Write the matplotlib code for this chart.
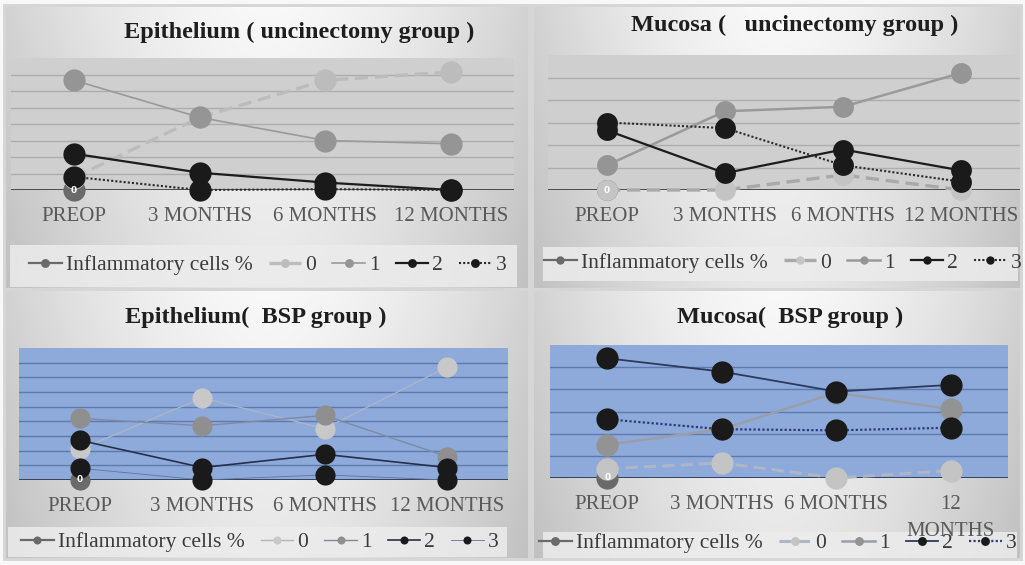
import numpy as np
import matplotlib
matplotlib.use('Agg')
import matplotlib.pyplot as plt
from matplotlib.patches import Rectangle

W, H = 1025, 565

categories = ['PREOP', '3 MONTHS', '6 MONTHS', '12 MONTHS']
categories_p4 = ['PREOP', '3 MONTHS', '6 MONTHS', '12\nMONTHS']
series_names = ['Inflammatory cells %', '0', '1', '2', '3']
titles = ['Epithelium ( uncinectomy group )', 'Mucosa (   uncinectomy group )',
          'Epithelium(  BSP group )', 'Mucosa(  BSP group )']

# Inflammatory cells % : only the PREOP point (value 0, labelled)
inflam_preop = [0]

# Epithelium (uncinectomy group)
epi_unc_0 = [0.75, 4.4, 6.65, 7.15]
epi_unc_1 = [6.65, 4.4, 3.0, 2.8]
epi_unc_2 = [2.2, 1.05, 0.45, 0.0]
epi_unc_3 = [0.8, 0.0, 0.05, 0.0]

# Mucosa (uncinectomy group)
muc_unc_0 = [0.0, 0.0, 0.67, 0.0]
muc_unc_1 = [1.1, 3.5, 3.7, 5.2]
muc_unc_2 = [2.65, 0.75, 1.8, 0.87]
muc_unc_3 = [3.0, 2.75, 1.1, 0.37]

# Epithelium (BSP group)
epi_bsp_0 = [2.1, 5.6, 3.5, 7.7]
epi_bsp_1 = [4.2, 3.7, 4.4, 1.6]
epi_bsp_2 = [2.7, 0.85, 1.75, 0.85]
epi_bsp_3 = [0.8, 0.0, 0.35, 0.0]

# Mucosa (BSP group)
muc_bsp_0 = [0.42, 0.68, 0.0, 0.33]
muc_bsp_1 = [1.5, 2.2, 3.85, 3.1]
muc_bsp_2 = [5.4, 4.8, 3.9, 4.2]
muc_bsp_3 = [2.65, 2.2, 2.15, 2.27]

SERIF = ['Liberation Serif', 'DejaVu Serif']

fig = plt.figure(figsize=(W / 100, H / 100), dpi=100)

# ---------- background ----------
panels = [(6, 7, 528, 288), (534, 7, 1020, 288), (6, 291, 528, 558), (534, 291, 1020, 558)]
img = np.ones((H, W)) * 0.975
yy, xx = np.mgrid[0:H, 0:W]
for (x0, y0, x1, y1) in panels:
    img[y0 - 3:y1 + 3, x0 - 3:x1 + 3] = np.minimum(img[y0 - 3:y1 + 3, x0 - 3:x1 + 3], 0.84)
for (x0, y0, x1, y1) in panels:
    xc = (x0 + x1) / 2
    u = (xx[y0:y1, x0:x1] - xc) / ((x1 - x0) / 2)
    v = (yy[y0:y1, x0:x1] - y0) / (y1 - y0)
    img[y0:y1, x0:x1] = 0.975 - 0.15 * np.abs(u) ** 1.6 - 0.07 * v
bg = fig.add_axes([0, 0, 1, 1])
bg.imshow(np.dstack([img] * 3), aspect='auto', extent=(0, W, H, 0))
bg.set_xlim(0, W)
bg.set_ylim(H, 0)
bg.axis('off')


def rect(x0, y0, x1, y1):
    return [x0 / W, 1 - y1 / H, (x1 - x0) / W, (y1 - y0) / H]


configs = [
    dict(ax=(11, 58, 514, 190), ymax=8, face='#cfcfcf', grid='#adadad', base='#3f3f3f',
         data=[epi_unc_0, epi_unc_1, epi_unc_2, epi_unc_3], cats=categories,
         title_xy=(299, 32), leg_box=(10, 245, 517, 287), leg_c=(268, 265), ms=16,
         styles=[dict(color='#bcbcbc', ls=(0, (4, 2)), lw=2.4, mfc='#bcbcbc'),
                 dict(color='#9a9a9a', ls='-', lw=1.2, mfc='#959595'),
                 dict(color='#1c1c1c', ls='-', lw=1.6, mfc='#1a1a1a'),
                 dict(color='#2a2a2a', ls=(0, (1, 1)), lw=1.5, mfc='#1a1a1a')]),
    dict(ax=(548, 55, 1020, 190), ymax=6, face='#cfcfcf', grid='#adadad', base='#3f3f3f',
         data=[muc_unc_0, muc_unc_1, muc_unc_2, muc_unc_3], cats=categories,
         title_xy=(795, 25), leg_box=(543, 247, 1018, 281), leg_c=(783, 263), ms=15,
         styles=[dict(color='#a9a9a9', ls=(0, (4, 2)), lw=2.4, mfc='#c4c4c4'),
                 dict(color='#9a9a9a', ls='-', lw=1.8, mfc='#959595'),
                 dict(color='#1c1c1c', ls='-', lw=1.6, mfc='#1a1a1a'),
                 dict(color='#2a2a2a', ls=(0, (1, 1)), lw=1.5, mfc='#1a1a1a')]),
    dict(ax=(19, 348, 508, 480), ymax=9, face='#8eaadb', grid='#5d79ad', base='#2c3852',
         data=[epi_bsp_0, epi_bsp_1, epi_bsp_2, epi_bsp_3], cats=categories,
         title_xy=(256, 317), leg_box=(8, 527, 507, 557), leg_c=(260, 542), ms=14.5,
         styles=[dict(color='#aab5c9', ls='-', lw=1.0, mfc='#c8c8c8'),
                 dict(color='#7f8aa0', ls='-', lw=1.0, mfc='#8f8f8f'),
                 dict(color='#26304a', ls='-', lw=1.2, mfc='#1a1a1a'),
                 dict(color='#5e72a0', ls='-', lw=0.6, mfc='#1a1a1a')]),
    dict(ax=(550, 345, 1008, 478), ymax=6, face='#8eaadb', grid='#5d79ad', base='#2c3852',
         data=[muc_bsp_0, muc_bsp_1, muc_bsp_2, muc_bsp_3], cats=categories_p4,
         title_xy=(790, 317), leg_box=(543, 532, 1017, 558), leg_c=(778, 543), ms=16,
         styles=[dict(color='#aeb6c6', ls=(0, (4, 2)), lw=2.2, mfc='#c4c4c4'),
                 dict(color='#9a9ea8', ls='-', lw=1.8, mfc='#939393'),
                 dict(color='#2c3a5c', ls='-', lw=1.3, mfc='#1a1a1a'),
                 dict(color='#2c3a7c', ls=(0, (1, 1)), lw=1.6, mfc='#1a1a1a')]),
]

for i, cfg in enumerate(configs):
    ax = fig.add_axes(rect(*cfg['ax']))
    ax.set_facecolor(cfg['face'])
    for s in ax.spines.values():
        s.set_visible(False)
    ax.set_xlim(-0.5, 3.5)
    ax.set_ylim(0, cfg['ymax'])
    for g in range(1, cfg['ymax']):
        ax.axhline(g, color=cfg['grid'], lw=1.0, zorder=1)
    ax.axhline(0, color=cfg['base'], lw=2.0, zorder=2)
    x = np.arange(len(categories))
    handles = []
    h, = ax.plot(x[:1], inflam_preop, color='#6a6a6a', marker='o', ms=cfg['ms'],
                 mfc='#6a6a6a', mec='none', lw=1.6, clip_on=False, zorder=3,
                 label=series_names[0])
    handles.append(h)
    for j, (vals, st) in enumerate(zip(cfg['data'], cfg['styles'])):
        h, = ax.plot(x, vals, color=st['color'], ls=st['ls'], lw=st['lw'], marker='o',
                     ms=cfg['ms'], mfc=st['mfc'], mec='none', clip_on=False,
                     zorder=4 + j, label=series_names[j + 1])
        handles.append(h)
    ax.text(0, inflam_preop[0], '0', color='white', fontsize=6.5, fontweight='bold',
            ha='center', va='center', zorder=20, clip_on=False)
    ax.set_yticks([])
    ax.set_xticks(x)
    ax.set_xticklabels(cfg['cats'], fontsize=15, color='#595959', family=SERIF,
                       linespacing=1.55)
    ax.tick_params(axis='x', length=0, pad=12.5)

    fig.text(cfg['title_xy'][0] / W, 1 - cfg['title_xy'][1] / H, titles[i],
             fontsize=17.5, fontweight='bold', family=SERIF, color='#1e1e1e',
             ha='center', va='center')

    lx0, ly0, lx1, ly1 = cfg['leg_box']
    bg.add_patch(Rectangle((lx0, ly0), lx1 - lx0, ly1 - ly0, facecolor='#ececec',
                           edgecolor='none', alpha=0.85, zorder=2))
    leg = fig.legend(handles=handles, loc='center',
                     bbox_to_anchor=(cfg['leg_c'][0] / W, 1 - cfg['leg_c'][1] / H),
                     ncol=5, frameon=False, markerscale=0.4, handlelength=1.5,
                     handletextpad=0.2, columnspacing=0.75, borderpad=0,
                     prop={'family': SERIF, 'size': 15.5})
    for t in leg.get_texts():
        t.set_color('#3a3a3a')

fig.savefig('out.png', dpi=100)
